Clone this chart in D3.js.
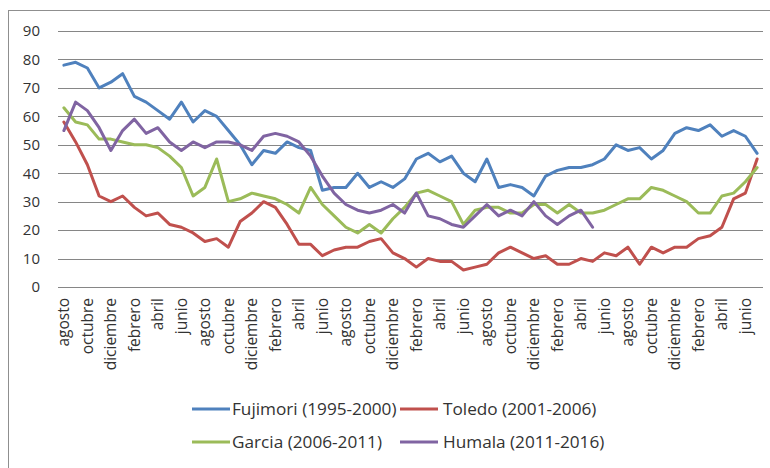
<!DOCTYPE html>
<html>
<head>
<meta charset="utf-8">
<script src="https://cdn.jsdelivr.net/npm/d3@7"></script>
<style>
  html, body { margin: 0; padding: 0; background: #fff; overflow: hidden; }
  svg { display: block; font-family: "Open Sans", Lato, sans-serif; }
</style>
</head>
<body>
<svg id="chart" width="770" height="468"></svg>
<script>
// Month cycle for the five-year terms (August of year 1 to July of year 6)
const monthNames = ["agosto", "septiembre", "octubre", "noviembre", "diciembre", "enero",
                    "febrero", "marzo", "abril", "mayo", "junio", "julio"];
const months = d3.range(60).map(i => i);
const monthLabels = months.map(i => monthNames[i % 12]);

const fujimori = [78,79,77,70,72,75,67,65,62,59, 65,58,62,60,55,50,43,48,47,51,
                  49,48,34,35,35,40,35,37,35,38, 45,47,44,46,40,37,45,35,36,35,
                  32,39,41,42,42,43,45,50,48,49, 45,48,54,56,55,57,53,55,53,47];
const toledo   = [58,51,43,32,30,32,28,25,26,22, 21,19,16,17,14,23,26,30,28,22,
                  15,15,11,13,14,14,16,17,12,10, 7,10,9,9,6,7,8,12,14,12,
                  10,11,8,8,10,9,12,11,14,8, 14,12,14,14,17,18,21,31,33,45];
const garcia   = [63,58,57,52,52,51,50,50,49,46, 42,32,35,45,30,31,33,32,31,29,
                  26,35,29,25,21,19,22,19,24,28, 33,34,32,30,22,27,28,28,26,26,
                  29,29,26,29,26,26,27,29,31,31, 35,34,32,30,26,26,32,33,37,42];
const humala   = [55,65,62,56,48,55,59,54,56,51, 48,51,49,51,51,50,48,53,54,53,
                  51,46,39,33,29,27,26,27,29,26, 33,25,24,22,21,25,29,25,27,25,
                  30,25,22,25,27,21];

const seriesNames = ["Fujimori (1995-2000)", "Toledo (2001-2006)", "Garcia (2006-2011)", "Humala (2011-2016)"];
const seriesValues = [fujimori, toledo, garcia, humala];
const colors = ["#4F81BD", "#C0504D", "#9BBB59", "#8064A2"];
const yTicks = [0, 10, 20, 30, 40, 50, 60, 70, 80, 90];

const FONT = "'Open Sans', Lato, sans-serif";
const svg = d3.select("#chart");

// Outer chart frame
svg.append("rect")
  .attr("x", 8.5).attr("y", 10.5)
  .attr("width", 800).attr("height", 500)
  .attr("fill", "none").attr("stroke", "#8f8f8f").attr("stroke-width", 1);

const x = d3.scaleBand().domain(months).range([58, 763]);
const y = d3.scaleLinear().domain([0, 90]).range([287, 31]);

// Horizontal gridlines
svg.append("g").selectAll("line").data(yTicks).join("line")
  .attr("x1", 58).attr("x2", 763)
  .attr("y1", d => Math.round(y(d)) + 0.5).attr("y2", d => Math.round(y(d)) + 0.5)
  .attr("stroke", "#868686").attr("stroke-width", 1);

// Y axis labels
const yAxis = d3.axisLeft(y).tickValues(yTicks).tickSize(0).tickPadding(0);
svg.append("g").attr("transform", "translate(40,0)").call(yAxis)
  .call(g => g.select(".domain").remove())
  .call(g => g.selectAll("text")
    .attr("font-family", FONT)
    .attr("font-size", 15).attr("fill", "#333"));

// X axis labels, every other month, rotated
const xAxis = d3.axisBottom(x)
  .tickValues(months.filter(i => i % 2 === 0))
  .tickFormat(i => monthLabels[i])
  .tickSize(0);
svg.append("g").attr("transform", "translate(0,298)").call(xAxis)
  .call(g => g.select(".domain").remove())
  .call(g => g.selectAll("text")
    .attr("font-family", FONT)
    .attr("font-size", 15.5).attr("fill", "#333")
    .attr("text-anchor", "end")
    .attr("transform", "rotate(-90)")
    .attr("x", 0).attr("y", 0).attr("dx", 0).attr("dy", "0.35em"));

// Series lines
const line = d3.line()
  .x((d, i) => x(i) + x.bandwidth() / 2)
  .y(d => y(d));

svg.append("g").selectAll("path").data(seriesValues).join("path")
  .attr("d", d => line(d))
  .attr("fill", "none")
  .attr("stroke", (d, i) => colors[i])
  .attr("stroke-width", 3)
  .attr("stroke-linejoin", "round")
  .attr("stroke-linecap", "round");

// Legend (two rows, two columns)
const legendPos = [[192, 409], [400, 409], [192, 442], [400, 442]];
const legend = svg.append("g").selectAll("g").data(seriesNames).join("g")
  .attr("transform", (d, i) => `translate(${legendPos[i][0]},${legendPos[i][1]})`);
legend.append("line")
  .attr("x1", 0).attr("x2", 38).attr("y1", 0).attr("y2", 0)
  .attr("stroke", (d, i) => colors[i]).attr("stroke-width", 3);
legend.append("text")
  .attr("x", (d, i) => i % 2 === 0 ? 40 : 43)
  .attr("y", 0).attr("dy", "0.35em")
  .attr("font-family", FONT)
  .attr("font-size", 17.2).attr("fill", "#333")
  .text(d => d);
</script>
</body>
</html>
